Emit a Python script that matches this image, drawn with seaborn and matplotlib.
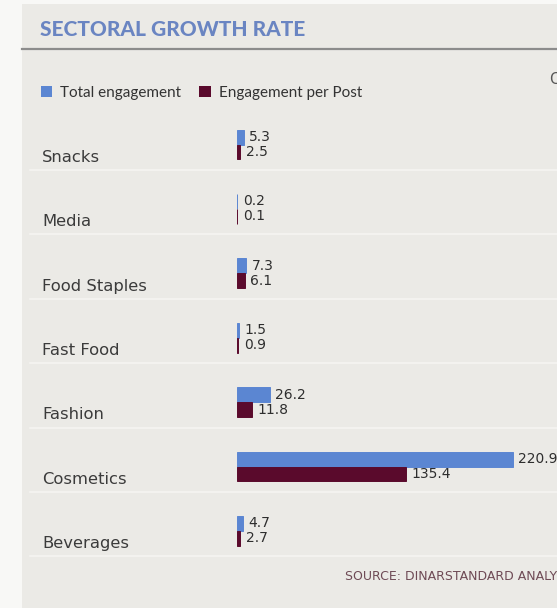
import matplotlib
matplotlib.use("Agg")
import matplotlib.pyplot as plt
import matplotlib.transforms as mtransforms
from matplotlib.patches import Rectangle
from matplotlib.lines import Line2D
import seaborn as sns
import pandas as pd

# Growth rates by sector
categories = ["Snacks", "Media", "Food Staples", "Fast Food", "Fashion", "Cosmetics", "Beverages"]
total_engagement = [5.3, 0.2, 7.3, 1.5, 26.2, 220.9, 4.7]
engagement_per_post = [2.5, 0.1, 6.1, 0.9, 11.8, 135.4, 2.7]
series_names = ["Total engagement", "Engagement per Post"]

title = "SECTORAL GROWTH RATE"
source = "SOURCE: DINARSTANDARD ANALYSIS"

BLUE = "#5b86d2"
MAROON = "#5a0a2c"
CARD = "#ebeae6"
PAGE = "#f8f8f6"

df = pd.DataFrame({
    "category": categories * 2,
    "metric": [series_names[0]] * len(categories) + [series_names[1]] * len(categories),
    "value": total_engagement + engagement_per_post,
})

W, H = 557, 608
fig = plt.figure(figsize=(W / 100, H / 100), dpi=100, facecolor=PAGE)

def fx(px):
    return px / W

def fy(py):
    return 1 - py / H

# card background and header rule
fig.patches.append(Rectangle((fx(22), 0), 1 - fx(22), fy(4), transform=fig.transFigure,
                             facecolor=CARD, edgecolor="none", zorder=-5))
fig.add_artist(Line2D([fx(22), 1], [fy(49), fy(49)], transform=fig.transFigure,
                      color="#8c8c8c", lw=1.6, zorder=1))

fig.text(fx(40), fy(30), title, fontsize=15, fontweight="black", family="Lato",
         color="#6a85c2", va="center", ha="left")
fig.text(fx(550), fy(79), "CAGR (%)", fontsize=10.5, family="DejaVu Sans", color="#555555",
         va="center", ha="left")

# bar area: y=0 sits at 144.5px, one category per 64.4px
top_px, bot_px = 105, 565
unit = 64.4
y0 = 144.5
ax = fig.add_axes([fx(237), fy(bot_px), 1 - fx(237), (bot_px - top_px) / H])
ax.set_facecolor("none")

sns.barplot(data=df, y="category", x="value", hue="metric", orient="h",
            palette=[BLUE, MAROON], width=0.46, saturation=1, dodge=True,
            order=categories, hue_order=series_names, ax=ax, linewidth=0)

# thin outline in the bar colour so near-zero bars still show
for p in ax.patches:
    p.set_edgecolor(p.get_facecolor())
    p.set_linewidth(0.7)

px_per_unit = 1.249
ax.set_xlim(0, (W - 237) / px_per_unit)
ax.set_ylim((bot_px - y0) / unit, (top_px - y0) / unit)

for cont, vals in zip(ax.containers, [total_engagement, engagement_per_post]):
    ax.bar_label(cont, labels=[f"{v:.1f}" for v in vals], padding=4, fontsize=10,
                 family="DejaVu Sans", color="#2e2e2e")

for s in ax.spines.values():
    s.set_visible(False)
ax.set_xticks([])
ax.set_yticks([])
ax.set_xlabel("")
ax.set_ylabel("")

# category labels and row separators
blend = mtransforms.blended_transform_factory(fig.transFigure, ax.transData)
for i, cat in enumerate(categories):
    ax.text(fx(42), i + 0.2, cat, transform=blend, fontsize=11.8, family="DejaVu Sans",
            color="#3b3b3b", va="center", ha="left", clip_on=False)
    sep = i + (170 - y0) / unit
    ax.add_line(Line2D([fx(30), 1], [sep, sep], transform=blend, color="#f5f4f1",
                       lw=1.2, zorder=0.5, clip_on=False))

sns.move_legend(ax, "center left", bbox_to_anchor=(fx(41), fy(93)),
                bbox_transform=fig.transFigure, ncol=2, frameon=False, title=None,
                fontsize=11, handlelength=0.75, handleheight=0.75, handletextpad=0.5,
                columnspacing=1.2, borderaxespad=0, borderpad=0)
for t in ax.get_legend().get_texts():
    t.set_family("Lato")
    t.set_color("#333333")

fig.text(fx(345), fy(577), source, fontsize=9, family="DejaVu Sans",
         color="#6e4a55", va="center", ha="left")

fig.savefig("out.png", dpi=100, facecolor=PAGE)
